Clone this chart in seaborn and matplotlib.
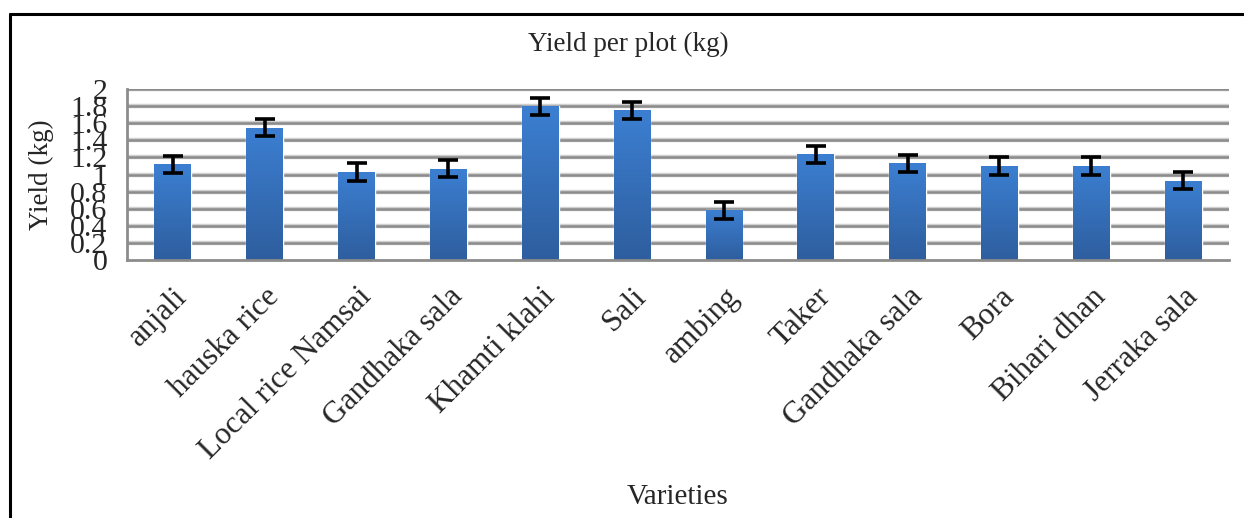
import numpy as np
import pandas as pd
import matplotlib
matplotlib.use("Agg")
import matplotlib.pyplot as plt
from matplotlib.lines import Line2D
from matplotlib.colors import LinearSegmentedColormap
import seaborn as sns

varieties = ["anjali", "hauska rice", "Local rice Namsai", "Gandhaka sala",
             "Khamti klahi", "Sali", "ambing", "Taker", "Gandhaka sala",
             "Bora", "Bihari dhan", "Jerraka sala"]
yields = [1.12, 1.55, 1.03, 1.07, 1.80, 1.75, 0.58, 1.24, 1.13, 1.10, 1.10, 0.93]
errors = [0.10, 0.10, 0.10, 0.10, 0.10, 0.10, 0.10, 0.10, 0.10, 0.10, 0.10, 0.10]
y_ticks = [0, 0.2, 0.4, 0.6, 0.8, 1, 1.2, 1.4, 1.6, 1.8, 2]
y_tick_labels = ["0", "0.2", "0.4", "0.6", "0.8", "1", "1.2", "1.4", "1.6", "1.8", "2"]

sns.set_style("white")
plt.rcParams["font.family"] = ["Liberation Serif", "DejaVu Serif"]

df = pd.DataFrame({"pos": list(range(len(varieties))), "yield": yields})

fig = plt.figure(figsize=(12.44, 5.18), dpi=100)
ax = fig.add_axes([0.102, 0.498, 0.886, 0.330])

grid_c = "#8C8C8C"
ax.set_axisbelow(True)
for t in y_ticks[1:]:
    ax.axhline(t, color="#D0D0D0", lw=3.2, zorder=0)
    ax.axhline(t, color=grid_c, lw=1.8, zorder=0.5)

sns.barplot(data=df, x="pos", y="yield", color="#3A78C8", width=0.4,
            ax=ax, errorbar=None, zorder=2)

cmap = LinearSegmentedColormap.from_list("g", ["#2E5E9E", "#3C7FD2"])
grad = np.linspace(0, 1, 256).reshape(-1, 1)
for p in ax.patches:
    x0, y0 = p.get_x(), p.get_y()
    w, h = p.get_width(), p.get_height()
    im = ax.imshow(grad, cmap=cmap, origin="lower", aspect="auto",
                   extent=[x0, x0 + w, y0, y0 + h], zorder=2.5)
    im.set_clip_path(p)

ax.errorbar(x=df["pos"], y=df["yield"], yerr=errors, fmt="none",
            ecolor="black", elinewidth=2.6, capsize=7, capthick=2.6, zorder=4)

ax.set_xlim(-0.5, len(varieties) - 0.5)
ax.set_ylim(0, 2)
ax.set_yticks(y_ticks)
ax.set_yticklabels(y_tick_labels, fontsize=21.5)
ax.set_xticks(range(len(varieties)))
ax.set_xticklabels(varieties, fontsize=22.5, rotation=45, ha="right",
                   rotation_mode="anchor")
ax.set_xticks(np.arange(-0.5, len(varieties), 1.0), minor=True)
ax.tick_params(axis="x", which="major", length=0, pad=16)
ax.tick_params(axis="x", which="minor", length=8, width=2, color=grid_c,
               direction="out")
ax.tick_params(axis="y", which="major", length=8, width=2, color=grid_c,
               direction="out", pad=6)

for s in ["top", "right"]:
    ax.spines[s].set_visible(False)
for s in ["left", "bottom"]:
    ax.spines[s].set_color(grid_c)
    ax.spines[s].set_linewidth(2)

ax.set_xlabel("")
ax.set_ylabel("Yield (kg)", fontsize=19.5)
ax.yaxis.set_label_coords(-0.066, 0.5)
fig.text(0.505, 0.915, "Yield per plot (kg)", ha="center", va="center", fontsize=19.5)
fig.text(0.545, 0.04, "Varieties", ha="center", va="center", fontsize=21)

fig.add_artist(Line2D([0.008, 0.008], [0, 0.973], transform=fig.transFigure,
                      color="black", lw=2.2))
fig.add_artist(Line2D([0.008, 1.0], [0.973, 0.973], transform=fig.transFigure,
                      color="black", lw=2.2))

fig.savefig("out.png", dpi=100)
